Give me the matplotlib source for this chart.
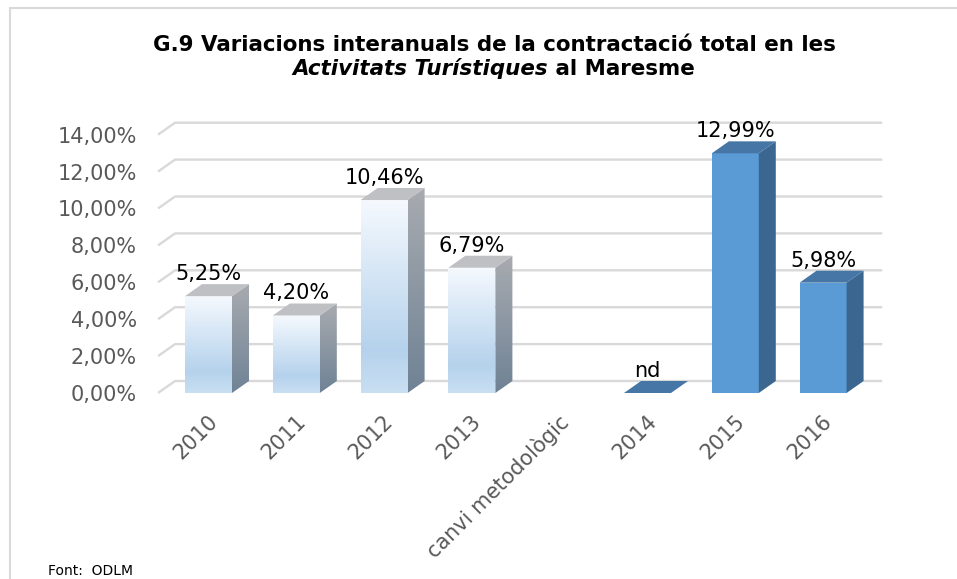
import numpy as np
import matplotlib.pyplot as plt
from matplotlib.colors import LinearSegmentedColormap
from matplotlib.patches import Polygon, Rectangle
from matplotlib.transforms import ScaledTranslation

# data
categories = ['2010', '2011', '2012', '2013', 'canvi metodològic', '2014', '2015', '2016']
values = [5.25, 4.20, 10.46, 6.79, None, 0.0, 12.99, 5.98]
not_available = ['2014']
yticks = [0, 2, 4, 6, 8, 10, 12, 14]

title1 = 'G.9 Variacions interanuals de la contractació total en les'
title2_it = 'Activitats Turístiques'
title2_rest = ' al Maresme'
source = 'Font:  ODLM'


def pct(v):
    return f'{v:.2f}'.replace('.', ',') + '%'


W, H = 957, 579
fig = plt.figure(figsize=(W / 100, H / 100), dpi=100)

# light grey chart frame (only top and left visible)
fig.patches.append(Rectangle((10 / W, -0.1), 1.2, 1 - 8 / H + 0.1, transform=fig.transFigure,
                             fill=False, edgecolor='#d9d9d9', lw=1.5))

ax = fig.add_axes([164.6 / W, 186 / H, (884 - 164.6) / W, 270.3 / H])
ax.patch.set_visible(False)
for s in ax.spines.values():
    s.set_visible(False)

dx, dy, bw = 0.194, 0.65, 0.535
xmax = len(categories) - 0.5 + dx

# 3d style gridlines
for t in yticks:
    ax.plot([-0.575, -0.575 + dx, xmax - 0.02], [t, t + dy, t + dy], color='#d9d9d9', lw=1.7,
            zorder=1, solid_capstyle='butt', clip_on=False)

split = categories.index('canvi metodològic')
front_cmap = LinearSegmentedColormap.from_list('front', [(0, '#c9dff2'), (0.22, '#b5d2ec'), (1, '#f5f9fe')])
side_cmap = LinearSegmentedColormap.from_list('side', ['#6f8295', '#a8abb0'])
grad = np.linspace(0, 1, 256).reshape(-1, 1)

xs = [i for i, v in enumerate(values) if v is not None]
hs = [v for v in values if v is not None]
old = [i < split for i in xs]
bars = ax.bar(xs, hs, width=bw, color=['none' if o else '#5b9bd5' for o in old],
              edgecolor='none', zorder=3)

for b, o, i, v in zip(bars, old, xs, hs):
    x0, x1 = b.get_x(), b.get_x() + b.get_width()
    side = [(x1, 0), (x1 + dx, dy), (x1 + dx, v + dy), (x1, v)]
    top = [(x0, v), (x0 + dx, v + dy), (x1 + dx, v + dy), (x1, v)]
    if o:
        im = ax.imshow(grad, extent=[x0, x1, 0, v], origin='lower', cmap=front_cmap,
                       aspect='auto', zorder=3)
        im.set_clip_path(b)
        sp = Polygon(side, closed=True, transform=ax.transData)
        im2 = ax.imshow(grad, extent=[x1, x1 + dx, 0, v + dy], origin='lower', cmap=side_cmap,
                        aspect='auto', zorder=3)
        im2.set_clip_path(sp)
        ax.add_patch(Polygon(top, closed=True, facecolor='#bfc0c3', edgecolor='none', zorder=4))
    else:
        if v > 0:
            ax.add_patch(Polygon(side, closed=True, facecolor='#3b6690', edgecolor='none', zorder=3))
        ax.add_patch(Polygon(top, closed=True, facecolor='#4676a5', edgecolor='none', zorder=4))
    label = 'nd' if categories[i] in not_available else pct(v)
    ax.annotate(label, (i, v + dy), xytext=(0, 3), textcoords='offset points',
                ha='center', va='baseline', fontsize=15, color='black', zorder=5)

ax.set_xlim(-0.5, xmax)
ax.set_ylim(0, 14.65)

ax.set_yticks(yticks)
ax.set_yticklabels([pct(t) for t in yticks], fontsize=15, color='#595959')
ax.tick_params(axis='y', length=0, pad=19.9)
ax.set_xticks(range(len(categories)))
ax.set_xticklabels(categories, fontsize=15, color='#595959', rotation=45,
                   ha='right', va='center', rotation_mode='anchor')
ax.tick_params(axis='x', length=0, pad=18.4)
shift = ScaledTranslation(6 / 100, 0, fig.dpi_scale_trans)
for lab in ax.get_xticklabels():
    lab.set_transform(lab.get_transform() + shift)

# title, second line mixes italic and upright bold
fig.text(494 / W, 1 - 51 / H, title1, ha='center', va='baseline', fontsize=15.4,
         weight='bold')
r = fig.canvas.get_renderer()
ta = fig.text(0, 1 - 75 / H, title2_it, va='baseline', fontsize=15.4, weight='bold',
              style='italic')
tb = fig.text(0, 1 - 75 / H, title2_rest, va='baseline', fontsize=15.4, weight='bold')
wa = ta.get_window_extent(r).width
wb = tb.get_window_extent(r).width
start = 494 - (wa + wb) / 2
ta.set_x(start / W)
tb.set_x((start + wa) / W)

fig.text(48 / W, 1 - 575 / H, source, fontsize=10, va='baseline')

fig.savefig('out.png', dpi=100)
